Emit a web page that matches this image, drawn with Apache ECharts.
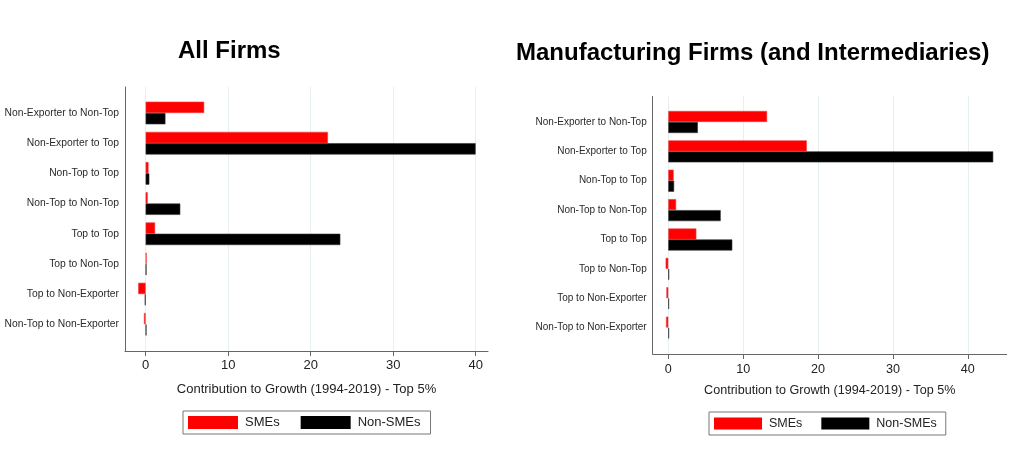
<!DOCTYPE html>
<html>
<head>
<meta charset="utf-8">
<script src="https://cdn.jsdelivr.net/npm/echarts@6/dist/echarts.min.js"></script>
<style>
html,body{margin:0;padding:0;background:#fff;}
#c{width:1024px;height:451px;}
</style>
</head>
<body>
<div id="c"></div>
<script>
const categories = ['Non-Exporter to Non-Top','Non-Exporter to Top','Non-Top to Top','Non-Top to Non-Top','Top to Top','Top to Non-Top','Top to Non-Exporter','Non-Top to Non-Exporter'];
const allSME = [7.1, 22.1, 0.35, 0.25, 1.15, 0.12, -0.9, -0.2];
const allNonSME = [2.4, 40.0, 0.45, 4.2, 23.6, 0.1, -0.1, 0.1];
const mfgSME = [13.2, 18.5, 0.72, 1.05, 3.75, -0.35, -0.25, -0.3];
const mfgNonSME = [3.95, 43.4, 0.78, 7.0, 8.55, 0.12, 0.1, 0.1];
const xTicks = [0, 10, 20, 30, 40];
const titles = ['All Firms', 'Manufacturing Firms (and Intermediaries)'];
const xName = 'Contribution to Growth (1994-2019) - Top 5%';
const seriesNames = ['SMEs', 'Non-SMEs'];

const FONT = 'Liberation Sans';
const gridLineColor = '#e6eff2';
const axisColor = '#666';

function frameX(gridIndex, min, max, fs, labelMargin, nameGap) {
  return {
    gridIndex, type: 'value', min, max,
    axisLine: {show: true, onZero: false, lineStyle: {color: axisColor, width: 1}},
    axisTick: {show: true, length: 5, lineStyle: {color: axisColor}, customValues: xTicks},
    axisLabel: {show: true, color: '#222', fontSize: fs, margin: labelMargin, fontFamily: FONT, customValues: xTicks},
    splitLine: {show: true, lineStyle: {color: gridLineColor, width: 1}},
    name: xName, nameLocation: 'middle', nameGap,
    nameTextStyle: {color: '#222', fontSize: fs, fontFamily: FONT}
  };
}
function hiddenX(gridIndex, min, max) {
  return {gridIndex, type: 'value', min, max, show: false};
}
function frameY(gridIndex) {
  return {
    gridIndex, type: 'value', min: 0, max: 1,
    axisLine: {show: true, onZero: false, lineStyle: {color: axisColor, width: 1}},
    axisTick: {show: false}, axisLabel: {show: false}, splitLine: {show: false}
  };
}
function catY(gridIndex, fs) {
  return {
    gridIndex, type: 'category', data: categories, inverse: true,
    axisLine: {show: false}, axisTick: {show: false},
    axisLabel: {color: '#2a2a2a', fontSize: fs, margin: 6, fontFamily: FONT},
    splitLine: {show: false}
  };
}
function bar(name, data, color, border, xi, yi) {
  return {
    name, type: 'bar', data, xAxisIndex: xi, yAxisIndex: yi,
    barCategoryGap: '25%', barGap: '0%',
    itemStyle: {color, borderColor: border, borderWidth: 0.6},
    silent: true, animation: false
  };
}

const chart = echarts.init(document.getElementById('c'));
chart.setOption({
  animation: false,
  backgroundColor: '#fff',
  textStyle: {fontFamily: FONT},
  title: [
    {text: titles[0], left: 178, top: 39, padding: 0, textStyle: {fontFamily: FONT, fontWeight: 'bold', fontSize: 24, color: '#000'}},
    {text: titles[1], left: 516, top: 41, padding: 0, textStyle: {fontFamily: FONT, fontWeight: 'bold', fontSize: 24, color: '#000'}}
  ],
  legend: [
    {data: seriesNames, left: 183, top: 411, orient: 'horizontal', icon: 'rect',
     itemWidth: 50, itemHeight: 13, itemGap: 21, padding: [5, 10, 5, 5],
     borderColor: '#777', borderWidth: 1, selectedMode: false,
     itemStyle: {borderWidth: 0},
     textStyle: {fontSize: 13, color: '#222', fontFamily: FONT, padding: [0, 0, 0, 2]}},
    {data: seriesNames, left: 709, top: 412, orient: 'horizontal', icon: 'rect',
     itemWidth: 48, itemHeight: 12, itemGap: 19, padding: [5, 9, 5, 5],
     borderColor: '#777', borderWidth: 1, selectedMode: false,
     itemStyle: {borderWidth: 0},
     textStyle: {fontSize: 12.5, color: '#222', fontFamily: FONT, padding: [0, 0, 0, 2]}}
  ],
  grid: [
    {left: 125, top: 87, width: 363, height: 264},
    {left: 125, top: 97.9, width: 363, height: 241.5},
    {left: 652.7, top: 96.5, width: 354, height: 257.5},
    {left: 652.7, top: 107.3, width: 354, height: 235}
  ],
  xAxis: [
    frameX(0, -2.5, 41.5, 13, 8, 32),
    hiddenX(1, -2.5, 41.5),
    frameX(2, -2.08, 45.2, 12.6, 9, 30),
    hiddenX(3, -2.08, 45.2)
  ],
  yAxis: [
    frameY(0),
    catY(1, 10.3),
    frameY(2),
    catY(3, 10)
  ],
  series: [
    bar(seriesNames[0], allSME, '#ff0000', '#f04040', 1, 1),
    bar(seriesNames[1], allNonSME, '#000000', '#333333', 1, 1),
    bar(seriesNames[0], mfgSME, '#ff0000', '#f04040', 3, 3),
    bar(seriesNames[1], mfgNonSME, '#000000', '#333333', 3, 3)
  ]
});
</script>
</body>
</html>
